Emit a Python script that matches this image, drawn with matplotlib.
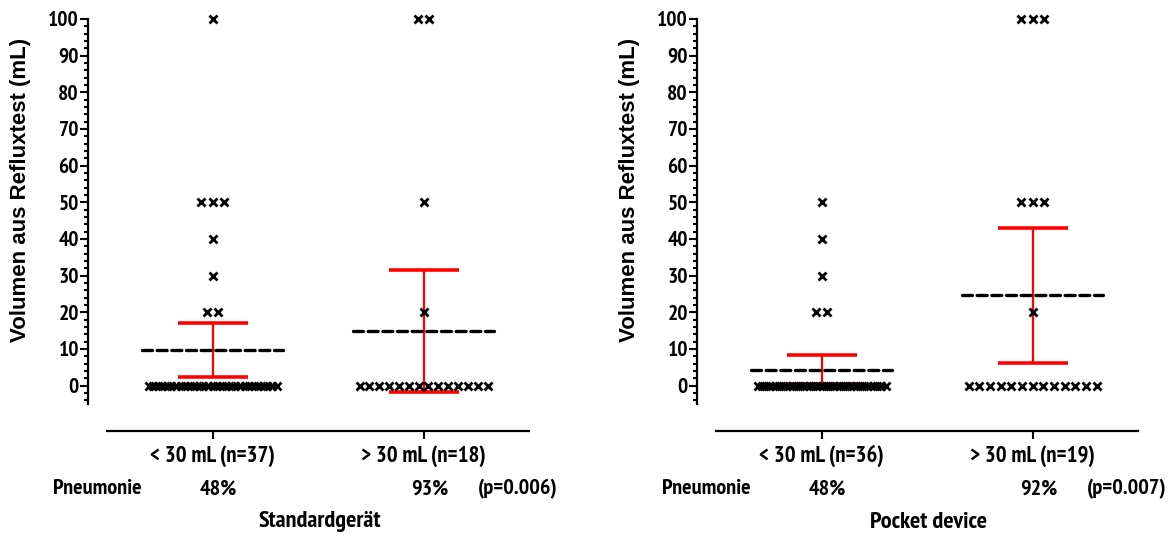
import numpy as np
import matplotlib
matplotlib.use('Agg')
import matplotlib.pyplot as plt
from matplotlib import font_manager as fm

W, H = 1172, 538

# condensed bold face (the original uses Arial Narrow Bold)
def pick_narrow():
    want = ['Arial Narrow', 'Liberation Sans Narrow', 'PT Sans Narrow',
            'Roboto Condensed', 'Asap Condensed', 'Barlow Semi Condensed']
    have = {}
    for f in fm.fontManager.ttflist:
        w = f.weight if isinstance(f.weight, int) else {'bold': 700}.get(f.weight, 400)
        if f.style == 'normal' and w >= 700:
            have[f.name] = True
    for name in want:
        if name in have:
            return name
    return 'Liberation Sans'

NARROW = [pick_narrow(), 'Liberation Sans', 'DejaVu Sans']
WIDE = ['Liberation Sans', 'DejaVu Sans']

# ---- data ----
groups = ['< 30 mL', '> 30 mL']

# Standardgeraet
std_n = [37, 18]
std_lt30_vals = [100, 50, 40, 30, 20, 0]
std_lt30_counts = [1, 3, 1, 1, 2, 29]
std_gt30_vals = [100, 50, 20, 0]
std_gt30_counts = [2, 1, 1, 14]
std_mean = [9.7, 15.0]
std_ci_lo = [2.4, -1.6]
std_ci_hi = [17.0, 31.6]
std_pneu = ['48%', '93%']
std_p = '(p=0.006)'

# Pocket device
pock_n = [36, 19]
pock_lt30_vals = [50, 40, 30, 20, 0]
pock_lt30_counts = [1, 1, 1, 2, 31]
pock_gt30_vals = [100, 50, 20, 0]
pock_gt30_counts = [3, 3, 1, 13]
pock_mean = [4.4, 24.6]
pock_ci_lo = [0.4, 6.3]
pock_ci_hi = [8.4, 43.0]
pock_pneu = ['48%', '92%']
pock_p = '(p=0.007)'

PX = 211.0  # pixels per x unit


def row_offsets(n):
    # horizontal spread of equal values, in x units (Prism-like scatter)
    if n == 1:
        return np.array([0.0])
    step = min(11.5, 128.0 / (n - 1)) / PX
    return (np.arange(n) - (n - 1) / 2.0) * step


def scatter_group(ax, xc, vals, counts):
    xs, ys = [], []
    for v, c in zip(vals, counts):
        off = row_offsets(c)
        xs += list(xc + off)
        ys += [v] * c
    ax.plot(xs, ys, 'x', color='black', ms=5.2, mew=2.0, zorder=5, clip_on=False)


def make_panel(left_px, data_sets, means, lo, hi, ns, pneu, pval, title):
    ax = fig.add_axes([left_px / W, 1 - 404 / H, 422 / W, 385 / H])
    ax.set_xlim(0.5, 2.5)
    ax.set_ylim(-5, 100)
    for s in ['top', 'right']:
        ax.spines[s].set_visible(False)
    ax.spines['left'].set_position(('outward', 13.7))
    ax.spines['bottom'].set_position(('outward', 19.4))
    ax.spines['left'].set_linewidth(1.6)
    ax.spines['bottom'].set_linewidth(1.6)

    x = np.array([1, 2])
    # 95% CI bars
    yerr = [np.array(means) - np.array(lo), np.array(hi) - np.array(means)]
    ax.errorbar(x, means, yerr=yerr, fmt='none', ecolor='#ff0000',
                elinewidth=1.6, capsize=25, capthick=2.6, zorder=2)
    # mean as dashed line
    for xi, m in zip(x, means):
        ax.plot([xi - 0.335, xi + 0.335], [m, m], color='black', lw=2.4,
                ls=(0, (3.0, 1.4)), dash_capstyle='round', zorder=3)
    for xi, (vals, counts) in zip(x, data_sets):
        scatter_group(ax, xi, vals, counts)

    ax.set_yticks(np.arange(0, 101, 10))
    ax.set_yticks(np.arange(-4, 100, 2), minor=True)
    ax.tick_params(axis='y', which='major', length=6, width=1.5, pad=0.5)
    ax.tick_params(axis='y', which='minor', length=3, width=1.5)
    ax.set_xticks(x)
    ax.set_xticklabels(['%s (n=%d)' % (g, n) for g, n in zip(groups, ns)])
    ax.tick_params(axis='x', length=6, width=1.5, pad=4)
    for lab in ax.get_yticklabels():
        lab.set_family(NARROW)
        lab.set_fontweight('bold')
        lab.set_fontsize(15.5)
    for lab in ax.get_xticklabels():
        lab.set_family(NARROW)
        lab.set_fontweight('bold')
        lab.set_fontsize(16.5)

    off = left_px - 107
    fig.text((53 + off) / W, 1 - 489 / H, 'Pneumonie', ha='left', va='center',
             family=NARROW, fontweight='bold', fontsize=16)
    for xp, t in zip([218 + off, 430 + off], pneu):
        fig.text(xp / W, 1 - 489 / H, t, ha='center', va='center',
                 family=NARROW, fontweight='bold', fontsize=16)
    fig.text((518 + off) / W, 1 - 489 / H, pval, ha='center', va='center',
             family=NARROW, fontweight='bold', fontsize=16)
    fig.text((320 + off) / W, 1 - 522 / H, title, ha='center', va='center',
             family=NARROW, fontweight='bold', fontsize=17.5)
    fig.text((21 + off) / W, 1 - 190 / H, 'Volumen aus Refluxtest (mL)',
             rotation=90, ha='center', va='center', family=WIDE,
             fontweight='bold', fontsize=16)
    return ax


fig = plt.figure(figsize=(W / 100, H / 100), dpi=100)

make_panel(107, [(std_lt30_vals, std_lt30_counts), (std_gt30_vals, std_gt30_counts)],
           std_mean, std_ci_lo, std_ci_hi, std_n, std_pneu, std_p, 'Standardgerät')
make_panel(716, [(pock_lt30_vals, pock_lt30_counts), (pock_gt30_vals, pock_gt30_counts)],
           pock_mean, pock_ci_lo, pock_ci_hi, pock_n, pock_pneu, pock_p, 'Pocket device')

fig.savefig('out.png', dpi=100)
